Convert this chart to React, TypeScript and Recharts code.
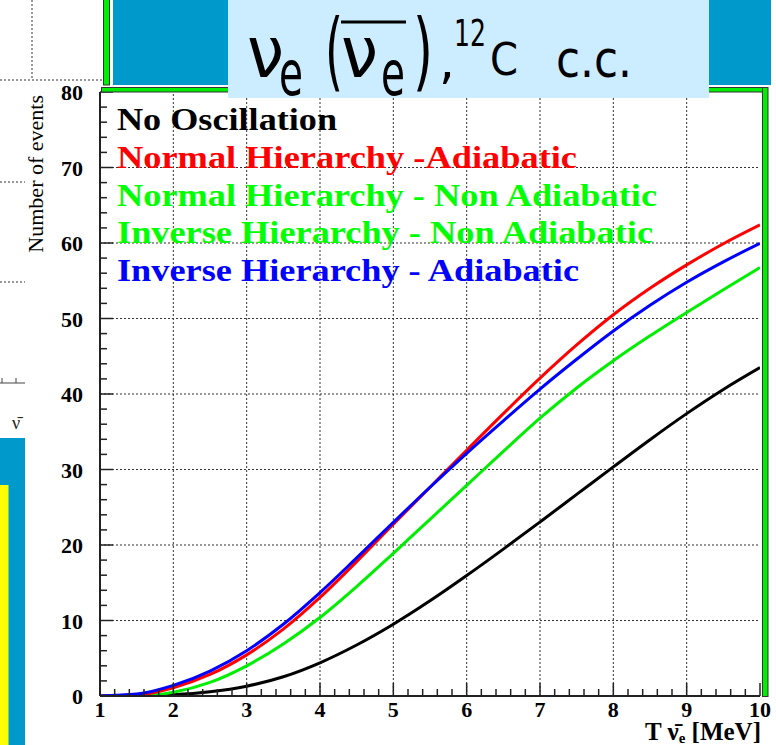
import React from "react";
import { LineChart, Line, XAxis, YAxis, ReferenceLine } from "recharts";

// neutrino energy T (MeV)
const energies = [1, 1.5, 2, 2.5, 3, 3.5, 4, 4.5, 5, 5.5, 6, 6.5, 7, 7.5, 8, 8.5, 9, 9.5, 10];

const noOscillation = [0, 0, 0.15, 0.55, 1.3, 2.55, 4.4, 6.75, 9.5, 12.6, 15.95, 19.45, 23.05, 26.7, 30.35, 33.95, 37.4, 40.6, 43.5];
const normalAdiabatic = [0, 0.15, 1.1, 2.85, 5.45, 8.85, 13.05, 17.8, 22.75, 27.65, 32.55, 37.4, 42.1, 46.5, 50.5, 54.0, 57.1, 59.9, 62.4];
const nonAdiabatic = [0, 0, 0.5, 1.8, 4.0, 6.9, 10.4, 14.5, 18.9, 23.4, 27.9, 32.4, 36.8, 40.8, 44.4, 47.7, 50.8, 53.8, 56.75];
const inverseAdiabatic = [0, 0.25, 1.4, 3.3, 6.0, 9.5, 13.7, 18.3, 23.0, 27.65, 32.15, 36.45, 40.65, 44.6, 48.35, 51.75, 54.8, 57.5, 59.95];

const xMajor = [1, 2, 3, 4, 5, 6, 7, 8, 9, 10];
const yMajor = [0, 10, 20, 30, 40, 50, 60, 70, 80];
const xGrid = [2, 3, 4, 5, 6, 7, 8, 9];
const yGrid = [10, 20, 30, 40, 50, 60, 70];

const legendItems = [
  { label: "No Oscillation", color: "#000000", width: 220 },
  { label: "Normal Hierarchy -Adiabatic", color: "#ff0000", width: 460 },
  { label: "Normal Hierarchy - Non Adiabatic", color: "#00ff00", width: 540 },
  { label: "Inverse Hierarchy - Non Adiabatic", color: "#00ff00", width: 536 },
  { label: "Inverse Hierarchy - Adiabatic", color: "#0000ff", width: 462 },
];

const rows = energies.map((e, i) => ({
  e,
  none: noOscillation[i],
  nh: normalAdiabatic[i],
  na: nonAdiabatic[i],
  ih: inverseAdiabatic[i],
}));

// minor ticks: x every 0.2, y every 2
const xTicks: number[] = [];
for (let i = 0; i <= (xMajor[xMajor.length - 1] - xMajor[0]) * 5; i++) xTicks.push(+(xMajor[0] + i * 0.2).toFixed(1));
const yTicks: number[] = [];
for (let i = 0; i <= yMajor[yMajor.length - 1] / 2; i++) yTicks.push(i * 2);

const serif = "'Liberation Serif', 'Times New Roman', serif";
const title = "'Comic Sans MS', 'DejaVu Sans', sans-serif";
const axisColor = "#222";

const isMajor = (v: number, step: number) => Math.abs(v / step - Math.round(v / step)) < 1e-6;

function XTick(props: any) {
  const { x, y, payload } = props;
  const v = payload.value;
  const major = isMajor(v, 1);
  return (
    <g>
      <line x1={x} x2={x} y1={y} y2={y - (major ? 13 : 7)} stroke={axisColor} strokeWidth={1.5} />
      {major && (
        <text x={x} y={y + 21} textAnchor="middle" fontFamily={serif} fontWeight="bold" fontSize={22} fill="#000">
          {Math.round(v)}
        </text>
      )}
    </g>
  );
}

function YTick(props: any) {
  const { x, y, payload } = props;
  const v = payload.value;
  const major = isMajor(v, 10);
  return (
    <g>
      <line x1={x} x2={x + (major ? 13 : 7)} y1={y} y2={y} stroke={axisColor} strokeWidth={1.5} />
      {major && (
        <text x={x - 17} y={y + 8} textAnchor="end" fontFamily={serif} fontWeight="bold" fontSize={22} fill="#000">
          {v}
        </text>
      )}
    </g>
  );
}

function Overlay() {
  const dotted = { stroke: "#333", strokeWidth: 1, strokeDasharray: "2 2" };
  return (
    <svg width={776} height={745} style={{ position: "absolute", left: 0, top: 0, pointerEvents: "none" }}>
      {/* pieces of neighbouring pads */}
      <line x1={0} y1={80} x2={103} y2={80} {...dotted} />
      <line x1={32} y1={0} x2={32} y2={80} {...dotted} />
      <line x1={0} y1={182} x2={25} y2={182} {...dotted} />
      <line x1={0} y1={282} x2={25} y2={282} {...dotted} />
      <line x1={0} y1={383} x2={25} y2={383} stroke="#444" strokeWidth={1} />
      <line x1={2} y1={383} x2={2} y2={378} stroke="#444" strokeWidth={1} />
      <line x1={16} y1={383} x2={16} y2={378} stroke="#444" strokeWidth={1} />
      <text x={12} y={429} fontFamily={serif} fontSize={18} fill="#222">{"\u03bd\u0304"}</text>
      <rect x={0} y={438} width={25} height={307} fill="#0099cc" />
      <rect x={0} y={485} width={8.5} height={260} fill="#ffff00" />

      {/* pad decorations */}
      <rect x={103.5} y={-2} width={6} height={87} fill="#00ee00" stroke="#333" strokeWidth={1} />
      <rect x={113} y={0} width={115} height={85} fill="#0099cc" />
      <rect x={707} y={0} width={64} height={85} fill="#0099cc" />
      <rect x={101.5} y={87.5} width={666} height={4.5} fill="#00ee00" stroke="#333" strokeWidth={1} />
      <rect x={762.5} y={87.5} width={5.5} height={609} fill="#00ee00" stroke="#333" strokeWidth={1} />

      {/* title box */}
      <rect x={228} y={0} width={481} height={98} fill="#ccecff" />
      <text x={247} y={77} fontFamily={title} fontSize={72} textLength={37} lengthAdjust="spacingAndGlyphs">ν</text>
      <text x={279} y={95} fontFamily={title} fontSize={62} textLength={24} lengthAdjust="spacingAndGlyphs">e</text>
      <text x={325} y={80} fontFamily={title} fontSize={86} textLength={18} lengthAdjust="spacingAndGlyphs">(</text>
      <line x1={341} y1={22} x2={406} y2={22} stroke="#000" strokeWidth={3} />
      <text x={341} y={77} fontFamily={title} fontSize={72} textLength={37} lengthAdjust="spacingAndGlyphs">ν</text>
      <text x={381} y={95} fontFamily={title} fontSize={62} textLength={24} lengthAdjust="spacingAndGlyphs">e</text>
      <text x={413} y={80} fontFamily={title} fontSize={86} textLength={20} lengthAdjust="spacingAndGlyphs">)</text>
      <text x={439} y={78} fontFamily={title} fontSize={50}>,</text>
      <text x={454} y={46} fontFamily={title} fontSize={38} textLength={32} lengthAdjust="spacingAndGlyphs">12</text>
      <text x={490} y={75} fontFamily={title} fontSize={44} textLength={28} lengthAdjust="spacingAndGlyphs">C</text>
      <text x={556} y={77} fontFamily={title} fontSize={52} textLength={76} lengthAdjust="spacingAndGlyphs">c.c.</text>

      {/* legend */}
      {legendItems.map((it, i) => (
        <text
          key={it.label}
          x={117}
          y={130 + i * 37.8}
          fontFamily={serif}
          fontWeight="bold"
          fontSize={32}
          fill={it.color}
          textLength={it.width}
          lengthAdjust="spacingAndGlyphs"
        >
          {it.label}
        </text>
      ))}

      {/* axis titles */}
      <text
        transform="translate(43,95) rotate(-90)"
        textAnchor="end"
        fontFamily={serif}
        fontSize={22}
        fill="#000"
      >
        Number of events
      </text>
      <text x={761} y={740} textAnchor="end" fontFamily={serif} fontWeight="bold" fontSize={25} fill="#000">
        T {"\u03bd\u0304"}
        <tspan fontSize={15} dy={3}>e</tspan>
        <tspan dy={-3}> [MeV]</tspan>
      </text>
    </svg>
  );
}

export default function App() {
  return (
    <div style={{ position: "absolute", left: 0, top: 0, width: 776, height: 745, background: "#fff", overflow: "hidden" }}>
      <LineChart width={776} height={745} data={rows} margin={{ top: 92, right: 16, bottom: 0, left: 0 }}>
        <XAxis
          dataKey="e"
          type="number"
          domain={[1, 10]}
          ticks={xTicks}
          interval={0}
          height={49}
          tickSize={0}
          tickMargin={0}
          tickLine={false}
          axisLine={{ stroke: axisColor, strokeWidth: 2 }}
          tick={<XTick />}
          allowDataOverflow
        />
        <YAxis
          type="number"
          domain={[0, 80]}
          ticks={yTicks}
          interval={0}
          width={100}
          tickSize={0}
          tickMargin={0}
          tickLine={false}
          axisLine={{ stroke: axisColor, strokeWidth: 2 }}
          tick={<YTick />}
          allowDataOverflow
        />
        {xGrid.map((v) => (
          <ReferenceLine key={"x" + v} x={v} stroke="#333" strokeWidth={1} strokeDasharray="2 2" />
        ))}
        {yGrid.map((v) => (
          <ReferenceLine key={"y" + v} y={v} stroke="#333" strokeWidth={1} strokeDasharray="2 2" />
        ))}
        <Line type="monotone" dataKey="none" stroke="#000000" strokeWidth={3} dot={false} isAnimationActive={false} />
        <Line type="monotone" dataKey="na" stroke="#00ee00" strokeWidth={3} dot={false} isAnimationActive={false} />
        <Line type="monotone" dataKey="nh" stroke="#ff0000" strokeWidth={3} dot={false} isAnimationActive={false} />
        <Line type="monotone" dataKey="ih" stroke="#0000ff" strokeWidth={3} dot={false} isAnimationActive={false} />
      </LineChart>
      <Overlay />
    </div>
  );
}
